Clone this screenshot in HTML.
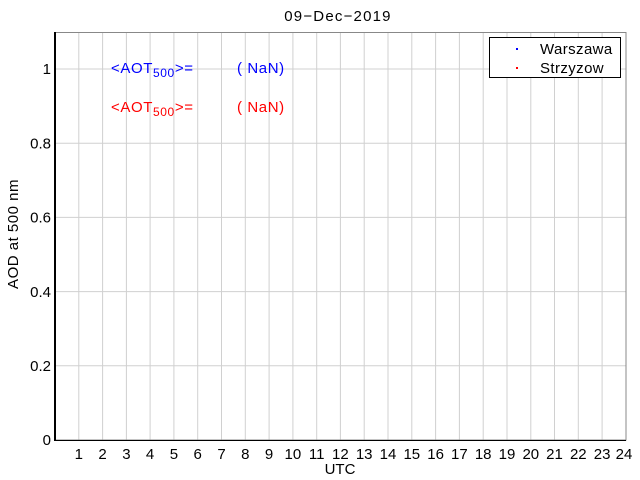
<!DOCTYPE html>
<html><head><style>body{margin:0;background:#fff}svg{display:block}text{font-family:"Liberation Sans",sans-serif}</style></head><body>
<svg width="640" height="480" viewBox="0 0 640 480" xmlns="http://www.w3.org/2000/svg">
<rect width="640" height="480" fill="#fff"/>
<g stroke="#d0d0d0" stroke-width="1">
<line x1="78.8" y1="33" x2="78.8" y2="440"/><line x1="102.6" y1="33" x2="102.6" y2="440"/><line x1="126.4" y1="33" x2="126.4" y2="440"/><line x1="150.1" y1="33" x2="150.1" y2="440"/><line x1="173.9" y1="33" x2="173.9" y2="440"/><line x1="197.7" y1="33" x2="197.7" y2="440"/><line x1="221.5" y1="33" x2="221.5" y2="440"/><line x1="245.3" y1="33" x2="245.3" y2="440"/><line x1="269.1" y1="33" x2="269.1" y2="440"/><line x1="292.9" y1="33" x2="292.9" y2="440"/><line x1="316.7" y1="33" x2="316.7" y2="440"/><line x1="340.4" y1="33" x2="340.4" y2="440"/><line x1="364.2" y1="33" x2="364.2" y2="440"/><line x1="388" y1="33" x2="388" y2="440"/><line x1="411.8" y1="33" x2="411.8" y2="440"/><line x1="435.6" y1="33" x2="435.6" y2="440"/><line x1="459.4" y1="33" x2="459.4" y2="440"/><line x1="483.2" y1="33" x2="483.2" y2="440"/><line x1="507" y1="33" x2="507" y2="440"/><line x1="530.8" y1="33" x2="530.8" y2="440"/><line x1="554.5" y1="33" x2="554.5" y2="440"/><line x1="578.3" y1="33" x2="578.3" y2="440"/><line x1="602.1" y1="33" x2="602.1" y2="440"/>
<line x1="55" y1="69" x2="626" y2="69"/><line x1="55" y1="143.2" x2="626" y2="143.2"/><line x1="55" y1="217.4" x2="626" y2="217.4"/><line x1="55" y1="291.6" x2="626" y2="291.6"/><line x1="55" y1="365.8" x2="626" y2="365.8"/>
</g>
<rect x="55" y="32.5" width="571" height="407.5" fill="none" stroke="#888" stroke-width="1"/>
<line x1="55" y1="32" x2="55" y2="441" stroke="#000" stroke-width="2"/>
<line x1="54" y1="440.5" x2="626" y2="440.5" stroke="#000" stroke-width="1"/>
<g font-size="15" text-anchor="end" fill="#000">
<text x="51" y="445">0</text><text x="51" y="371">0.2</text><text x="51" y="297">0.4</text><text x="51" y="222.5">0.6</text><text x="51" y="148.5">0.8</text><text x="51" y="74">1</text>
</g>
<g font-size="15" text-anchor="middle" fill="#000">
<text x="78.8" y="459">1</text><text x="102.6" y="459">2</text><text x="126.4" y="459">3</text><text x="150.1" y="459">4</text><text x="173.9" y="459">5</text><text x="197.7" y="459">6</text><text x="221.5" y="459">7</text><text x="245.3" y="459">8</text><text x="269.1" y="459">9</text><text x="292.9" y="459">10</text><text x="316.7" y="459">11</text><text x="340.4" y="459">12</text><text x="364.2" y="459">13</text><text x="388" y="459">14</text><text x="411.8" y="459">15</text><text x="435.6" y="459">16</text><text x="459.4" y="459">17</text><text x="483.2" y="459">18</text><text x="507" y="459">19</text><text x="530.8" y="459">20</text><text x="554.5" y="459">21</text><text x="578.3" y="459">22</text><text x="602.1" y="459">23</text><text x="624" y="459">24</text>
<text x="340" y="474">UTC</text>
<text x="338" y="21" letter-spacing="1.2">09−Dec−2019</text>
</g>
<text transform="translate(18 234) rotate(-90)" font-size="15" letter-spacing="0.5" text-anchor="middle">AOD at 500 nm</text>
<text x="111" y="73" font-size="15" letter-spacing="0.6" fill="#0000ff">&lt;AOT<tspan font-size="12" dy="4">500</tspan><tspan dy="-4">&gt;=</tspan></text>
<text x="237" y="73" font-size="15" letter-spacing="0.6" fill="#0000ff">( NaN)</text>
<text x="111" y="112" font-size="15" letter-spacing="0.6" fill="#ff0000">&lt;AOT<tspan font-size="12" dy="4">500</tspan><tspan dy="-4">&gt;=</tspan></text>
<text x="237" y="112" font-size="15" letter-spacing="0.6" fill="#ff0000">( NaN)</text>
<rect x="489.5" y="37.5" width="131" height="40" fill="#fff" stroke="#000"/>
<rect x="516" y="48" width="2" height="2" fill="#0000ff"/>
<rect x="516" y="67" width="2" height="2" fill="#ff0000"/>
<text x="540" y="54" font-size="15" letter-spacing="0.4">Warszawa</text>
<text x="540" y="73" font-size="15" letter-spacing="0.4">Strzyzow</text>
</svg>
</body></html>
